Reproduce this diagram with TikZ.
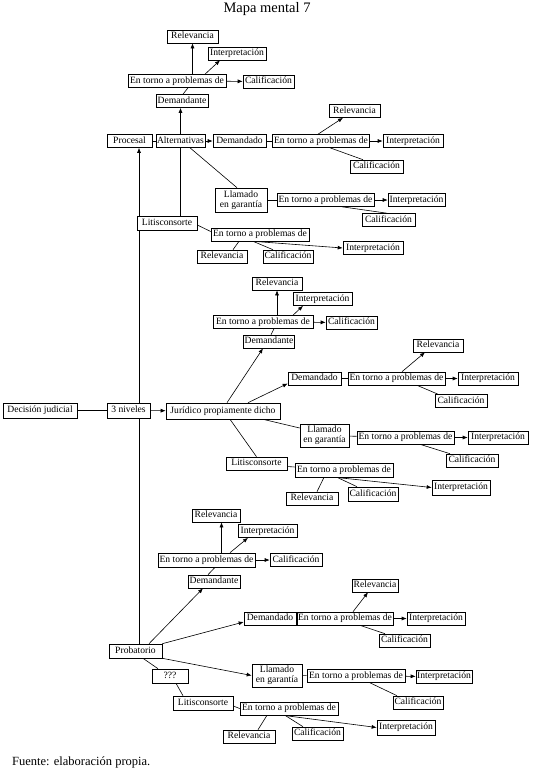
\documentclass[tikz,border=0pt]{standalone}
\usepackage{fontspec}
\setmainfont{Liberation Serif}
\usetikzlibrary{arrows.meta,backgrounds}
\begin{document}
\begin{tikzpicture}[x=1pt,y=-1pt,
  bxbase/.style={draw,line width=0.6pt,fill=white,inner xsep=1pt,inner ysep=1pt,minimum height=13,font=\fontsize{9.6}{10}\selectfont},
  bx/.style={bxbase,text height=6.9pt,text depth=2pt},
  llb/.style={bxbase,align=center},
  ln/.style={line width=0.6pt},
  ar/.style={line width=0.6pt,-{Latex[length=5pt,width=4pt]}}]
\useasboundingbox (0,0) rectangle (536,772);
\node[font=\fontsize{14.5}{16}\selectfont,anchor=base] (title) at (267,12.5) {Mapa mental 7};
\node[font=\fontsize{12.5}{14}\selectfont,anchor=base west,inner sep=0] (src) at (12,765) {Fuente: elaboración propia.};
% ---------- Procesal branch ----------
\node[bx,minimum width=45] (proc) at (129.5,141) {Procesal};
\node[bx,minimum width=49] (alt) at (180.5,141) {Alternativas};
\node[bx,minimum width=52] (demA) at (182,101) {Demandante};
\node[bx,minimum width=98] (entA) at (177,81) {En torno a problemas de};
\node[bx,minimum width=51] (relA) at (192.5,36.5) {Relevancia};
\node[bx,minimum width=58] (intA) at (237,53.5) {Interpretación};
\node[bx,minimum width=51] (calA) at (268.5,81.5) {Calificación};
\draw[ln] (proc) -- (alt);
\draw[ar] (alt) -- (alt |- demA.south);
\draw[ln] ([xshift=1]demA.north) -- ([xshift=11]entA.south);
\draw[ar] (entA.north -| relA) -- (relA);
\draw[ar] ([xshift=28]entA.north) -- ([xshift=-17]intA.south);
\draw[ar] (entA) -- (calA);
\node[bx,minimum width=53] (demdoA) at (239.5,141) {Demandado};
\node[bx,minimum width=97] (entB) at (321,141) {En torno a problemas de};
\node[bx,minimum width=60] (intB) at (413,141) {Interpretación};
\node[bx,minimum width=51] (relB) at (354.5,111) {Relevancia};
\node[bx,minimum width=53] (calB) at (376.5,166.5) {Calificación};
\draw[ar] (alt) -- (demdoA);
\draw[ln] (demdoA) -- (entB);
\draw[ar] (entB) -- (intB);
\draw[ar] ([xshift=-3]entB.north) -- ([xshift=-11.5]relB.south);
\draw[ln] ([xshift=9]entB.south) -- ([xshift=-13.5]calB.north);
\node[llb,minimum width=52,minimum height=24] (llA) at (241,200) {Llamado\\en garantía};
\node[bx,minimum width=97] (entC) at (325.5,200) {En torno a problemas de};
\node[bx,minimum width=57] (intC) at (416.5,200) {Interpretación};
\node[bx,minimum width=53] (calC) at (388.5,220) {Calificación};
\draw[ln] ([xshift=9.5]alt.south) -- ([xshift=-4]llA.north);
\draw[ln] (llA) -- (entC);
\draw[ar] (entC) -- (intC);
\draw[ln] ([xshift=16.5]entC.south) -- ([xshift=-1.5]calC.north);
\node[bx,minimum width=60,minimum height=14] (litA) at (167,223) {Litisconsorte};
\node[bx,minimum width=98] (entD) at (260,234.5) {En torno a problemas de};
\node[bx,minimum width=60] (intD) at (373,248) {Interpretación};
\node[bx,minimum width=50] (relD) at (222,256.5) {Relevancia};
\node[bx,minimum width=50] (calD) at (288,256.5) {Calificación};
\draw[ln] (litA.north -| alt) -- (alt);
\draw[ln] ([yshift=-2]litA.east) -- ([yshift=3]entD.west);
\draw[ar] ([xshift=-7]entD.south) -- (intD.west);
\draw[ln] ([xshift=-21]entD.south) -- ([xshift=11]relD.north);
\draw[ln] ([xshift=-7]entD.south) -- ([xshift=-15]calD.north);
% ---------- central row ----------
\node[bx,minimum width=74,minimum height=15] (dec) at (40,410.5) {Decisión judicial};
\node[bx,minimum width=43,minimum height=15] (niv) at (128.5,410.5) {3 niveles};
\node[bx,minimum width=114,minimum height=16] (jur) at (223,411) {Jurídico propiamente dicho};
\draw[ln] (dec) -- (niv);
\draw[ar] (niv) -- (jur);
\node[bx,minimum width=50] (demJ) at (269,341.5) {Demandante};
\node[bx,minimum width=100] (entJ) at (263,322) {En torno a problemas de};
\node[bx,minimum width=50] (relJ) at (277,283.5) {Relevancia};
\node[bx,minimum width=59] (intJ) at (322.5,299) {Interpretación};
\node[bx,minimum width=51] (calJ) at (351.5,322.5) {Calificación};
\draw[ar] ([xshift=4]jur.north) -- ([xshift=-6]demJ.south);
\draw[ln] ([xshift=2]demJ.north) -- ([xshift=11]entJ.south);
\draw[ar] (entJ.north -| relJ) -- (relJ);
\draw[ar] ([xshift=30]entJ.north) -- ([xshift=-19.5]intJ.south);
\draw[ar] (entJ) -- (calJ);
\node[bx,minimum width=53] (demdoJ) at (314.5,378.5) {Demandado};
\node[bx,minimum width=97] (entK) at (396.5,378.5) {En torno a problemas de};
\node[bx,minimum width=60] (intK) at (488,378.5) {Interpretación};
\node[bx,minimum width=50] (relK) at (438,345.5) {Relevancia};
\node[bx,minimum width=52] (calK) at (461,401) {Calificación};
\draw[ar] ([xshift=25]jur.north) -- ([yshift=-5]demdoJ.west);
\draw[ln] (demdoJ) -- (entK);
\draw[ar] (entK) -- (intK);
\draw[ar] ([xshift=5.5]entK.north) -- ([xshift=-13]relK.south);
\draw[ln] ([xshift=20.5]entK.south) -- ([xshift=-23]calK.north);
\node[llb,minimum width=49,minimum height=23] (llJ) at (324.5,435.5) {Llamado\\en garantía};
\node[bx,minimum width=97] (entL) at (405.5,437.5) {En torno a problemas de};
\node[bx,minimum width=60] (intL) at (498,437.5) {Interpretación};
\node[bx,minimum width=52] (calL) at (472,460.5) {Calificación};
\draw[ln] ([xshift=40]jur.south) -- ([yshift=7.5]llJ.west);
\draw[ln] (llJ) -- (entL);
\draw[ar] (entL) -- (intL);
\draw[ln] ([xshift=14.5]entL.south) -- ([xshift=-22]calL.north);
\node[bx,minimum width=61] (litJ) at (256.5,463.5) {Litisconsorte};
\node[bx,minimum width=98,minimum height=14] (entM) at (344,470) {En torno a problemas de};
\node[bx,minimum width=58,minimum height=15] (intM) at (461,487.5) {Interpretación};
\node[bx,minimum width=52] (relM) at (312,498.5) {Relevancia};
\node[bx,minimum width=50,minimum height=14] (calM) at (373,494) {Calificación};
\draw[ln] ([xshift=7]jur.south) -- (litJ.north);
\draw[ln] ([yshift=-3]litJ.east) -- ([yshift=3]entM.west);
\draw[ar] ([xshift=-9]entM.south) -- (intM.west);
\draw[ln] ([xshift=-20]entM.south) -- ([xshift=5]relM.north);
\draw[ln] ([xshift=-7]entM.south) -- ([xshift=-16]calM.north);
% ---------- Probatorio branch ----------
\node[bx,minimum width=53,minimum height=14] (prob) at (135.5,651) {Probatorio};
\node[bx,minimum width=52] (demC) at (214,581.5) {Demandante};
\node[bx,minimum width=97,minimum height=14] (entN1) at (206.5,560) {En torno a problemas de};
\node[bx,minimum width=48] (relC) at (216,515.5) {Relevancia};
\node[bx,minimum width=59] (intC2) at (267.5,531) {Interpretación};
\node[bx,minimum width=52] (calC2) at (296,560) {Calificación};
\draw[ar] ([xshift=13.5]prob.north) -- ([xshift=-11]demC.south);
\draw[ln] ([xshift=-6]demC.north) -- ([xshift=8.5]entN1.south);
\draw[ar] ([xshift=15]entN1.north) -- ([xshift=5.5]relC.south);
\draw[ar] ([xshift=23.5]entN1.north) -- ([xshift=-19.5]intC2.south);
\draw[ar] (entN1) -- (calC2);
\node[bx,minimum width=52] (demdoC) at (270,618.5) {Demandado};
\node[bx,minimum width=96] (entN) at (345,618.5) {En torno a problemas de};
\node[bx,minimum width=58] (intN) at (436,618.5) {Interpretación};
\node[bx,minimum width=46] (relN) at (375,585.5) {Relevancia};
\node[bx,minimum width=51] (calN) at (404.5,640.5) {Calificación};
\draw[ar] (prob.north east) -- ([yshift=-3.5]demdoC.west);
\draw[ln] (demdoC) -- (entN);
\draw[ar] (entN) -- (intN);
\draw[ar] ([xshift=8]entN.north) -- ([xshift=-7]relN.south);
\draw[ln] ([xshift=15]entN.south) -- ([xshift=-19.5]calN.north);
\node[llb,minimum width=50,minimum height=23] (llC) at (277,675.5) {Llamado\\en garantía};
\node[bx,minimum width=98] (entO) at (356,676) {En torno a problemas de};
\node[bx,minimum width=56] (intO) at (444,676.5) {Interpretación};
\node[bx,minimum width=50] (calO) at (418,702.5) {Calificación};
\draw[ar] (prob.south east) -- (llC.west);
\draw[ln] (llC) -- (entO);
\draw[ar] (entO) -- (intO);
\draw[ln] ([xshift=14]entO.south) -- ([xshift=-21]calO.north);
\node[bx,minimum width=36,minimum height=14] (q) at (170,676) {???};
\node[bx,minimum width=60,minimum height=14] (litC) at (203,703) {Litisconsorte};
\node[bx,minimum width=98] (entP) at (289,708.5) {En torno a problemas de};
\node[bx,minimum width=58,minimum height=15] (intP) at (406,727.5) {Interpretación};
\node[bx,minimum width=52] (relP) at (249,736.5) {Relevancia};
\node[bx,minimum width=51] (calP) at (317.5,733.5) {Calificación};
\draw[ln] ([xshift=7.5]prob.south) -- ([xshift=-12]q.north);
\draw[ln] ([xshift=6]q.south) -- ([xshift=-20]litC.north);
\draw[ln] ([yshift=-3]litC.east) -- (entP.west);
\draw[ar] ([xshift=-6]entP.south) -- (intP.west);
\draw[ln] ([xshift=-22]entP.south) -- ([xshift=9]relP.north);
\draw[ln] ([xshift=-4]entP.south) -- ([xshift=-14.5]calP.north);
% ---------- long vertical spine ----------
\coordinate (vx) at (139,0);
\begin{scope}[on background layer]
\draw[ar] (niv.north -| vx) -- (proc.south -| vx);
\draw[ln] (niv.south -| vx) -- (prob.north -| vx);
\end{scope}
\end{tikzpicture}
\end{document}
